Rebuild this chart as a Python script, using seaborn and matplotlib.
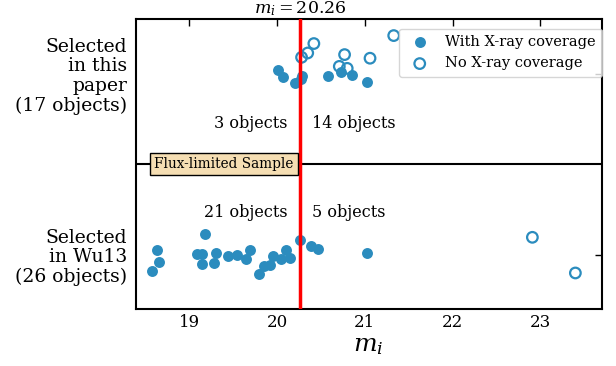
import numpy as np
import pandas as pd
import matplotlib
matplotlib.use("Agg")
import matplotlib.pyplot as plt
import seaborn as sns

# ---- data ----
# Selected in this paper (y ~ 1)
paper_xray_m = [20.01, 20.07, 20.20, 20.27, 20.29, 20.58, 20.73, 20.85, 21.03]
paper_xray_y = [1.018, 0.980, 0.949, 0.968, 0.985, 0.985, 1.010, 0.990, 0.956]
paper_noxray_m = [20.28, 20.35, 20.42, 20.71, 20.77, 20.80, 21.06, 21.33]
paper_noxray_y = [1.090, 1.114, 1.166, 1.040, 1.105, 1.029, 1.085, 1.210]
# Selected in Wu13 (y ~ 0)
wu_xray_m = [18.57, 18.63, 18.65, 19.09, 19.14, 19.14, 19.18, 19.28, 19.30, 19.44,
             19.54, 19.65, 19.69, 19.80, 19.85, 19.92, 19.95, 20.04, 20.10, 20.15,
             20.26, 20.39, 20.47, 21.03]
wu_xray_y = [-0.088, 0.026, -0.042, 0.002, 0.002, -0.053, 0.114, -0.046, 0.009, -0.006,
             -0.004, -0.022, 0.028, -0.109, -0.061, -0.059, -0.009, -0.022, 0.028, -0.018,
             0.083, 0.050, 0.033, 0.009]
wu_noxray_m = [22.91, 23.40]
wu_noxray_y = [0.096, -0.101]

m_cut = 20.26
ytick_pos = [0, 1]
ytick_labels = ["Selected\nin Wu13\n(26 objects)", "Selected\nin this\npaper\n(17 objects)"]
xtick_pos = [19, 20, 21, 22, 23]
count_labels = [("3 objects", "14 objects", 0.724), ("21 objects", "5 objects", 0.232)]

color = "#2b8cbe"

sns.set_theme(style="white")
plt.rcParams["font.family"] = ["DejaVu Serif"]
plt.rcParams["mathtext.fontset"] = "dejavuserif"
for k in ["text.color", "axes.labelcolor", "xtick.color", "ytick.color", "axes.edgecolor"]:
    plt.rcParams[k] = "black"

fig = plt.figure(figsize=(6.16, 3.66), dpi=100)
ax = fig.add_axes([0.2203, 0.1557, 0.9768 - 0.2203, 0.9473 - 0.1557])

filled = pd.DataFrame({"m": paper_xray_m + wu_xray_m, "y": paper_xray_y + wu_xray_y})
hollow = pd.DataFrame({"m": paper_noxray_m + wu_noxray_m, "y": paper_noxray_y + wu_noxray_y})

sns.scatterplot(data=filled, x="m", y="y", ax=ax, color=color, s=62, edgecolor=color,
                linewidth=0, label="With X-ray coverage", zorder=3)
sns.scatterplot(data=hollow, x="m", y="y", ax=ax, facecolor="none", edgecolor=color,
                s=58, linewidth=1.6, label="No X-ray coverage", zorder=3)

ax.axhline(0.5, color="black", lw=1.5, zorder=2)
ax.axvline(m_cut, color="red", lw=2.5, zorder=4)

ax.set_xlim(18.39, 23.70)
ax.set_ylim(-0.3, 1.3)
ax.set_xticks(xtick_pos)
ax.set_xticklabels([str(t) for t in xtick_pos])
ax.set_yticks(ytick_pos)
ax.set_yticklabels(ytick_labels, fontsize=13.5, ha="right", linespacing=1.1)
ax.tick_params(axis="both", direction="in", top=True, right=True, length=5, width=1,
               color="black", labelcolor="black", labelsize=12)
ax.tick_params(axis="y", labelsize=13.5, pad=6)
for sp in ax.spines.values():
    sp.set_color("black")
    sp.set_linewidth(1.5)

ax.set_xlabel("$m_i$", fontsize=18, labelpad=2, color="black")
ax.set_ylabel("")

ax.text(m_cut, 1.305, r"$m_i = 20.26$", ha="center", va="bottom", fontsize=12.5,
        color="black")

for left, right, yy in count_labels:
    ax.text(m_cut - 0.14, yy, left, ha="right", va="center", fontsize=11.5, color="black")
    ax.text(m_cut + 0.14, yy, right, ha="left", va="center", fontsize=11.5, color="black")

ax.text(18.60, 0.5, "Flux-limited Sample", ha="left", va="center", fontsize=9.8,
        color="black",
        bbox=dict(boxstyle="square,pad=0.3", facecolor="wheat", edgecolor="black", lw=1),
        zorder=5)

leg = ax.legend(loc="upper right", bbox_to_anchor=(1.0, 0.968), fontsize=10.5,
                frameon=True, borderaxespad=0.0, handletextpad=0.7, borderpad=0.45)
leg.get_frame().set_edgecolor("#cccccc")
for t in leg.get_texts():
    t.set_color("black")

fig.savefig("out.png", dpi=100)
